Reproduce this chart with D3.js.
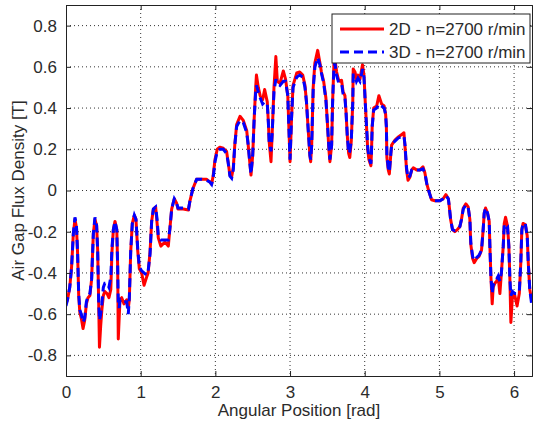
<!DOCTYPE html>
<html>
<head>
<meta charset="utf-8">
<script src="https://cdn.jsdelivr.net/npm/d3@7"></script>
<style>
  html, body { margin: 0; padding: 0; background: #fff; }
  #chart { width: 534px; height: 423px; }
</style>
</head>
<body>
<div id="chart"></div>
<script>
// angular position [rad]
const angle = [
  0.00, 0.02, 0.05, 0.075, 0.098, 0.12, 0.14, 0.155, 0.17, 0.185, 0.205, 0.228, 0.25, 0.273, 0.295, 0.32,
  0.343, 0.366, 0.388, 0.41, 0.424, 0.437, 0.448, 0.464, 0.48, 0.50, 0.52, 0.55, 0.575, 0.60, 0.615, 0.634,
  0.656, 0.68, 0.692, 0.70, 0.712, 0.723, 0.746, 0.777, 0.813, 0.834, 0.848, 0.866, 0.888, 0.915, 0.937, 0.96,
  0.982, 1.013, 1.045, 1.08, 1.10, 1.125, 1.147, 1.17, 1.20, 1.22, 1.236, 1.27, 1.325, 1.37, 1.39, 1.415,
  1.45, 1.48, 1.50, 1.57, 1.64, 1.66, 1.70, 1.75, 1.82, 1.88, 1.93, 1.95, 1.97, 1.995, 2.025, 2.06,
  2.106, 2.15, 2.17, 2.195, 2.218, 2.24, 2.26, 2.285, 2.33, 2.374, 2.42, 2.44, 2.46, 2.477, 2.50, 2.52,
  2.54, 2.55, 2.575, 2.60, 2.633, 2.66, 2.695, 2.71, 2.72, 2.745, 2.76, 2.785, 2.81, 2.83, 2.865, 2.91,
  2.94, 2.97, 2.985, 3.00, 3.02, 3.04, 3.09, 3.13, 3.17, 3.20, 3.22, 3.245, 3.266, 3.276, 3.29, 3.31,
  3.333, 3.37, 3.40, 3.42, 3.45, 3.48, 3.50, 3.52, 3.534, 3.557, 3.57, 3.588, 3.60, 3.624, 3.646, 3.668,
  3.69, 3.71, 3.735, 3.75, 3.766, 3.785, 3.80, 3.82, 3.84, 3.846, 3.87, 3.89, 3.91, 3.936, 3.96, 3.97,
  3.99, 4.007, 4.02, 4.04, 4.056, 4.083, 4.09, 4.10, 4.12, 4.16, 4.19, 4.226, 4.26, 4.28, 4.29, 4.297,
  4.315, 4.33, 4.35, 4.36, 4.405, 4.45, 4.49, 4.525, 4.54, 4.56, 4.58, 4.605, 4.63, 4.65, 4.695, 4.74,
  4.78, 4.806, 4.83, 4.86, 4.895, 4.94, 5.007, 5.05, 5.087, 5.12, 5.13, 5.15, 5.176, 5.207, 5.24, 5.274,
  5.296, 5.32, 5.355, 5.385, 5.408, 5.42, 5.445, 5.466, 5.50, 5.53, 5.564, 5.586, 5.60, 5.618, 5.645, 5.667,
  5.676, 5.69, 5.707, 5.72, 5.743, 5.766, 5.787, 5.81, 5.83, 5.855, 5.868, 5.886, 5.913, 5.93, 5.944, 5.957,
  5.98, 6.01, 6.04, 6.07, 6.09, 6.104, 6.12, 6.15, 6.176, 6.19, 6.21, 6.235, 6.24
];

// 2D FEM, n = 2700 r/min [T]
const flux2D = [
  -0.55, -0.53, -0.47, -0.37, -0.21, -0.14, -0.18, -0.30, -0.51, -0.59, -0.62, -0.67, -0.63, -0.55, -0.52, -0.51,
  -0.43, -0.21, -0.14, -0.17, -0.29, -0.53, -0.76, -0.66, -0.58, -0.51, -0.49, -0.50, -0.52, -0.48, -0.30, -0.19,
  -0.15, -0.19, -0.37, -0.72, -0.62, -0.53, -0.52, -0.55, -0.53, -0.57, -0.53, -0.30, -0.16, -0.12, -0.14, -0.29,
  -0.38, -0.40, -0.46, -0.42, -0.40, -0.30, -0.15, -0.09, -0.08, -0.16, -0.23, -0.27, -0.25, -0.27, -0.19, -0.09,
  -0.04, -0.06, -0.09, -0.09, -0.095, -0.05, 0.01, 0.055, 0.055, 0.055, 0.04, 0.03, 0.07, 0.15, 0.20, 0.21,
  0.205, 0.19, 0.14, 0.075, 0.065, 0.11, 0.22, 0.32, 0.36, 0.34, 0.29, 0.22, 0.14, 0.075, 0.17, 0.35,
  0.50, 0.56, 0.50, 0.46, 0.44, 0.49, 0.43, 0.33, 0.24, 0.14, 0.27, 0.50, 0.65, 0.53, 0.52, 0.58,
  0.54, 0.46, 0.30, 0.14, 0.35, 0.51, 0.57, 0.575, 0.56, 0.51, 0.43, 0.285, 0.17, 0.14, 0.22, 0.50,
  0.62, 0.68, 0.62, 0.575, 0.53, 0.45, 0.33, 0.20, 0.14, 0.22, 0.43, 0.62, 0.64, 0.575, 0.54, 0.53,
  0.535, 0.48, 0.46, 0.38, 0.27, 0.18, 0.16, 0.24, 0.43, 0.59, 0.575, 0.54, 0.56, 0.54, 0.59, 0.61,
  0.56, 0.43, 0.34, 0.20, 0.15, 0.12, 0.18, 0.31, 0.40, 0.41, 0.46, 0.42, 0.41, 0.37, 0.31, 0.16,
  0.10, 0.08, 0.18, 0.22, 0.245, 0.26, 0.27, 0.28, 0.21, 0.10, 0.05, 0.065, 0.10, 0.11, 0.10, 0.10,
  0.115, 0.085, 0.035, -0.005, -0.045, -0.05, -0.05, -0.04, -0.02, -0.04, -0.07, -0.14, -0.19, -0.20, -0.19, -0.175,
  -0.14, -0.085, -0.065, -0.08, -0.14, -0.26, -0.33, -0.35, -0.33, -0.32, -0.29, -0.19, -0.11, -0.085, -0.11, -0.15,
  -0.27, -0.42, -0.55, -0.47, -0.45, -0.44, -0.42, -0.50, -0.40, -0.27, -0.16, -0.13, -0.175, -0.27, -0.43, -0.64,
  -0.50, -0.51, -0.56, -0.50, -0.35, -0.19, -0.16, -0.165, -0.22, -0.35, -0.48, -0.53, -0.52
];

// 3D FEM, n = 2700 r/min [T]
const flux3D = [
  -0.56, -0.53, -0.47, -0.37, -0.21, -0.13, -0.17, -0.30, -0.50, -0.58, -0.60, -0.64, -0.62, -0.54, -0.51, -0.50,
  -0.43, -0.21, -0.13, -0.17, -0.29, -0.53, -0.63, -0.60, -0.55, -0.47, -0.45, -0.45, -0.47, -0.42, -0.28, -0.19,
  -0.15, -0.19, -0.37, -0.55, -0.57, -0.53, -0.54, -0.54, -0.54, -0.60, -0.52, -0.30, -0.16, -0.12, -0.14, -0.28,
  -0.37, -0.39, -0.40, -0.41, -0.39, -0.31, -0.15, -0.09, -0.08, -0.14, -0.22, -0.24, -0.24, -0.24, -0.19, -0.09,
  -0.04, -0.06, -0.085, -0.085, -0.09, -0.05, 0.01, 0.055, 0.055, 0.05, 0.04, 0.03, 0.06, 0.14, 0.19, 0.20,
  0.20, 0.18, 0.14, 0.07, 0.06, 0.10, 0.22, 0.31, 0.34, 0.33, 0.28, 0.22, 0.14, 0.08, 0.17, 0.35,
  0.48, 0.51, 0.48, 0.45, 0.42, 0.43, 0.42, 0.33, 0.24, 0.19, 0.27, 0.48, 0.54, 0.52, 0.51, 0.53,
  0.53, 0.46, 0.30, 0.15, 0.35, 0.50, 0.55, 0.56, 0.55, 0.50, 0.43, 0.285, 0.17, 0.15, 0.22, 0.49,
  0.60, 0.645, 0.61, 0.57, 0.52, 0.44, 0.33, 0.21, 0.15, 0.22, 0.43, 0.60, 0.62, 0.56, 0.53, 0.52,
  0.52, 0.47, 0.45, 0.38, 0.27, 0.18, 0.19, 0.24, 0.43, 0.56, 0.56, 0.53, 0.545, 0.53, 0.57, 0.59,
  0.55, 0.43, 0.34, 0.21, 0.16, 0.13, 0.18, 0.31, 0.39, 0.40, 0.42, 0.41, 0.40, 0.37, 0.31, 0.17,
  0.11, 0.09, 0.18, 0.22, 0.24, 0.255, 0.26, 0.265, 0.22, 0.11, 0.06, 0.07, 0.10, 0.105, 0.10, 0.10,
  0.105, 0.085, 0.035, -0.005, -0.045, -0.05, -0.05, -0.04, -0.025, -0.04, -0.07, -0.14, -0.19, -0.195, -0.19, -0.175,
  -0.14, -0.09, -0.07, -0.08, -0.14, -0.25, -0.32, -0.34, -0.325, -0.315, -0.29, -0.19, -0.11, -0.085, -0.11, -0.15,
  -0.27, -0.42, -0.50, -0.46, -0.44, -0.43, -0.415, -0.44, -0.40, -0.27, -0.17, -0.19, -0.18, -0.27, -0.43, -0.51,
  -0.49, -0.50, -0.50, -0.49, -0.35, -0.19, -0.16, -0.16, -0.22, -0.35, -0.48, -0.55, -0.52
];

const xTicks = [0, 1, 2, 3, 4, 5, 6];
const yTicks = [-0.8, -0.6, -0.4, -0.2, 0, 0.2, 0.4, 0.6, 0.8];
const seriesNames = ['2D - n=2700 r/min', '3D - n=2700 r/min'];

const d3 = window.d3;
const W = 534, H = 423;
const margin = { top: 5, right: 2, bottom: 47, left: 66 };
const w = W - margin.left - margin.right;
const h = H - margin.top - margin.bottom;
const FONT = "'Liberation Sans', Arial, sans-serif";
const TXT = '#2b2b2b';

const svg = d3.select('#chart').append('svg')
  .attr('width', W).attr('height', H)
  .style('font-family', FONT);

const g = svg.append('g').attr('transform', `translate(${margin.left},${margin.top})`);

const x = d3.scaleLinear().domain([0, 6.24]).range([0, w]);
const y = d3.scaleLinear().domain([-0.9, 0.9]).range([h, 0]);

g.append('rect').attr('width', w).attr('height', h).attr('fill', '#fff');

// dotted grid
g.append('g').selectAll('line').data(xTicks.filter(d => d > 0)).enter().append('line')
  .attr('x1', d => x(d)).attr('x2', d => x(d)).attr('y1', 0).attr('y2', h)
  .attr('stroke', '#333').attr('stroke-width', 1).attr('stroke-dasharray', '1,3');
g.append('g').selectAll('line').data(yTicks).enter().append('line')
  .attr('x1', 0).attr('x2', w).attr('y1', d => y(d)).attr('y2', d => y(d))
  .attr('stroke', '#333').attr('stroke-width', 1).attr('stroke-dasharray', '1,3');

// curves
svg.append('defs').append('clipPath').attr('id', 'clip')
  .append('rect').attr('width', w).attr('height', h);

const line = d3.line().x((d, i) => x(angle[i])).y(d => y(d));
const curves = g.append('g').attr('clip-path', 'url(#clip)');
curves.append('path').datum(flux2D).attr('d', line)
  .attr('fill', 'none').attr('stroke', '#ff0000').attr('stroke-width', 3).attr('stroke-linejoin', 'round');
curves.append('path').datum(flux3D).attr('d', line)
  .attr('fill', 'none').attr('stroke', '#0000ff').attr('stroke-width', 3).attr('stroke-dasharray', '9,5');

// axes, ticks pointing inward on all sides
const fmt = d => d === 0 ? '0' : String(+d.toFixed(1));
const xAxis = g.append('g').attr('transform', `translate(0,${h})`)
  .call(d3.axisBottom(x).tickValues(xTicks).tickSize(-5).tickPadding(10).tickFormat(fmt));
const xTop = g.append('g').call(d3.axisTop(x).tickValues(xTicks).tickSize(-5).tickFormat(''));
const yAxis = g.append('g')
  .call(d3.axisLeft(y).tickValues(yTicks).tickSize(-5).tickPadding(9).tickFormat(fmt));
const yRight = g.append('g').attr('transform', `translate(${w},0)`)
  .call(d3.axisRight(y).tickValues(yTicks).tickSize(-5).tickFormat(''));

[xAxis, xTop, yAxis, yRight].forEach(a => {
  a.selectAll('line').attr('stroke', '#222');
  a.select('.domain').attr('stroke', '#222');
  a.selectAll('text').attr('fill', TXT).attr('font-family', FONT).attr('font-size', '17px');
});

// axis titles
svg.append('text')
  .attr('x', margin.left + w / 2).attr('y', 416)
  .attr('text-anchor', 'middle').attr('fill', TXT).attr('font-size', '17px')
  .text('Angular Position [rad]');
svg.append('text')
  .attr('transform', `translate(24,${margin.top + h / 2}) rotate(-90)`)
  .attr('text-anchor', 'middle').attr('fill', TXT).attr('font-size', '17px')
  .text('Air Gap Flux Density [T]');

// legend
const lg = svg.append('g').attr('transform', 'translate(332,14)');
lg.append('rect').attr('width', 198).attr('height', 49)
  .attr('fill', '#fff').attr('stroke', '#222').attr('stroke-width', 1);
const legendColors = ['#ff0000', '#0000ff'];
seriesNames.forEach((name, i) => {
  const ly = 15 + i * 23;
  lg.append('line').attr('x1', 8).attr('x2', 52).attr('y1', ly).attr('y2', ly)
    .attr('stroke', legendColors[i]).attr('stroke-width', 3)
    .attr('stroke-dasharray', i === 1 ? '9,5' : null);
  lg.append('text').attr('x', 57).attr('y', ly + 6)
    .attr('fill', TXT).attr('font-size', '17px').text(name);
});
</script>
</body>
</html>
